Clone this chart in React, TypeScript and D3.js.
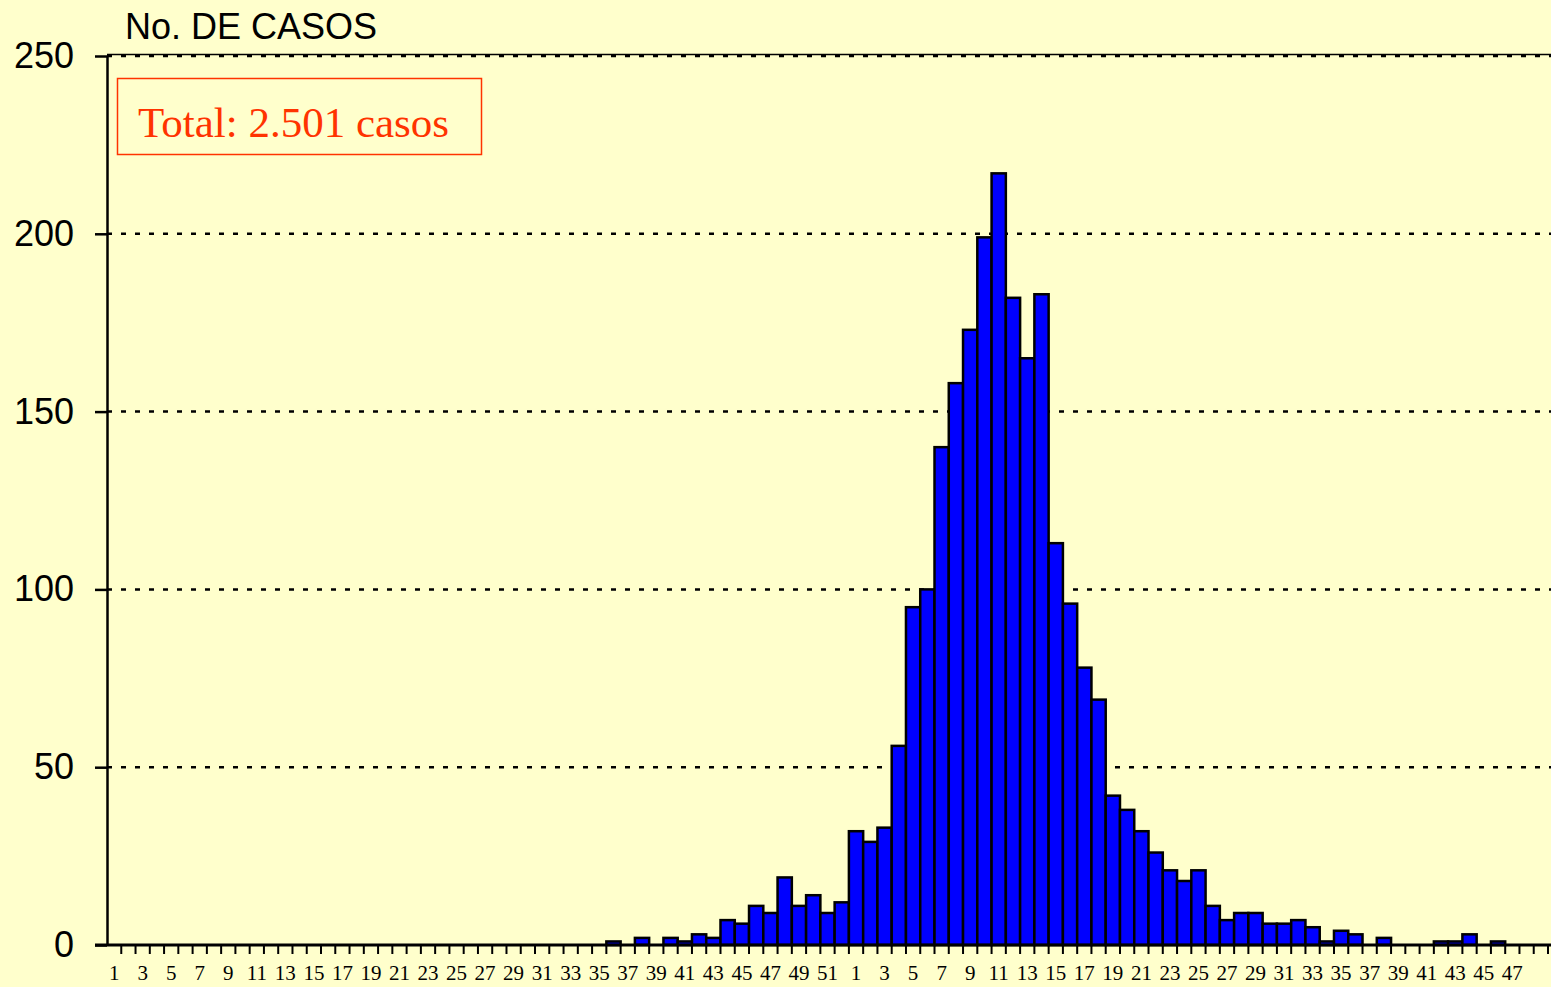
import { useEffect, useRef } from 'react';
import * as d3 from 'd3';

// weekly cases, two consecutive years (weeks 1-52, then weeks 1-49)
const weeksYear1 = d3.range(1, 53);
const weeksYear2 = d3.range(1, 50);

const casesYear1 = [
  0, 0, 0, 0, 0, 0, 0, 0, 0, 0,
  0, 0, 0, 0, 0, 0, 0, 0, 0, 0,
  0, 0, 0, 0, 0, 0, 0, 0, 0, 0,
  0, 0, 0, 0, 0, 1, 0, 2, 0, 2,
  1, 3, 2, 7, 6, 11, 9, 19, 11, 14,
  9, 12,
];
const casesYear2 = [
  32, 29, 33, 56, 95, 100, 140, 158, 173, 199,
  217, 182, 165, 183, 113, 96, 78, 69, 42, 38,
  32, 26, 21, 18, 21, 11, 7, 9, 9, 6,
  6, 7, 5, 1, 4, 3, 0, 2, 0, 0,
  0, 1, 1, 3, 0, 1, 0, 0, 0,
];

const yTicks = [0, 50, 100, 150, 200, 250];
const yTitle = 'No. DE CASOS';
const totalLabel = 'Total: 2.501 casos';
const lastLabelledIndex = 98; // week 47 of the second year is the last label shown

const App = () => {
  const ref = useRef<SVGSVGElement>(null);

  useEffect(() => {
    const width = 1551;
    const height = 987;
    const left = 107;
    const right = 1548;
    const top = 56;
    const bottom = 945;

    const data = [
      ...weeksYear1.map((w, i) => ({ week: w, cases: casesYear1[i] })),
      ...weeksYear2.map((w, i) => ({ week: w, cases: casesYear2[i] })),
    ].map((d, i) => ({ ...d, idx: i }));

    const svg = d3.select(ref.current);
    svg.selectAll('*').remove();
    svg.attr('width', width).attr('height', height);

    svg.append('rect').attr('width', width).attr('height', height).attr('fill', '#FFFFCC');

    const x = d3.scaleBand<number>()
      .domain(data.map(d => d.idx))
      .range([left, right])
      .padding(0);

    const y = d3.scaleLinear()
      .domain([0, 250])
      .range([bottom, top]);

    // dotted gridlines
    svg.append('g')
      .selectAll('line')
      .data(yTicks.filter(t => t > 0))
      .enter()
      .append('line')
      .attr('x1', left)
      .attr('x2', width)
      .attr('y1', d => y(d))
      .attr('y2', d => y(d))
      .attr('stroke', '#000')
      .attr('stroke-width', 2.5)
      .attr('stroke-dasharray', '5 9');

    // thin solid line along the top
    svg.append('line')
      .attr('x1', left).attr('x2', width)
      .attr('y1', y(250) - 1.5).attr('y2', y(250) - 1.5)
      .attr('stroke', '#000').attr('stroke-width', 1.5);

    // bars
    svg.append('g')
      .selectAll('rect')
      .data(data.filter(d => d.cases > 0))
      .enter()
      .append('rect')
      .attr('x', d => x(d.idx)!)
      .attr('y', d => y(d.cases))
      .attr('width', x.bandwidth())
      .attr('height', d => bottom - y(d.cases))
      .attr('fill', '#0000FF')
      .attr('stroke', '#000')
      .attr('stroke-width', 2.5);

    // y axis
    const yAxis = d3.axisLeft(y)
      .tickValues(yTicks)
      .tickSize(12)
      .tickSizeOuter(0)
      .tickPadding(21);
    const gy = svg.append('g')
      .attr('transform', 'translate(' + left + ',0)')
      .call(yAxis);
    gy.select('.domain').attr('stroke-width', 2.5);
    gy.selectAll('.tick line').attr('stroke-width', 2.5);
    gy.selectAll('.tick text')
      .attr('font-family', 'Liberation Sans, Arial, sans-serif')
      .attr('font-size', 36)
      .attr('fill', '#000');

    // x axis: ticks on band boundaries, labels every other week
    const xLine = svg.append('g');
    xLine.append('line')
      .attr('x1', left - 12).attr('x2', width)
      .attr('y1', bottom).attr('y2', bottom)
      .attr('stroke', '#000').attr('stroke-width', 3);
    xLine.selectAll('line.tk')
      .data(data)
      .enter()
      .append('line')
      .attr('class', 'tk')
      .attr('x1', d => x(d.idx)! + x.bandwidth())
      .attr('x2', d => x(d.idx)! + x.bandwidth())
      .attr('y1', bottom)
      .attr('y2', bottom + 9)
      .attr('stroke', '#000')
      .attr('stroke-width', 2);

    xLine.selectAll('text')
      .data(data.filter(d => d.idx % 2 === 0 && d.idx <= lastLabelledIndex))
      .enter()
      .append('text')
      .attr('x', d => x(d.idx)! + x.bandwidth() / 2)
      .attr('y', 980)
      .attr('text-anchor', 'middle')
      .attr('font-family', 'Liberation Serif, Times New Roman, serif')
      .attr('font-size', 21)
      .attr('fill', '#000')
      .text(d => d.week);

    // axis title
    svg.append('text')
      .attr('x', 125)
      .attr('y', 39)
      .attr('font-family', 'Liberation Sans, Arial, sans-serif')
      .attr('font-size', 36)
      .attr('fill', '#000')
      .text(yTitle);

    // total box
    svg.append('rect')
      .attr('x', 117.5).attr('y', 78.5)
      .attr('width', 364).attr('height', 76)
      .attr('fill', 'none')
      .attr('stroke', '#FF3300')
      .attr('stroke-width', 1.5);
    svg.append('text')
      .attr('x', 138)
      .attr('y', 137)
      .attr('font-family', 'Liberation Serif, Times New Roman, serif')
      .attr('font-size', 43)
      .attr('fill', '#FF3300')
      .text(totalLabel);
  }, []);

  return (
    <svg ref={ref} style={{ position: 'absolute', left: 0, top: 0, display: 'block' }} />
  );
};

export default App;
